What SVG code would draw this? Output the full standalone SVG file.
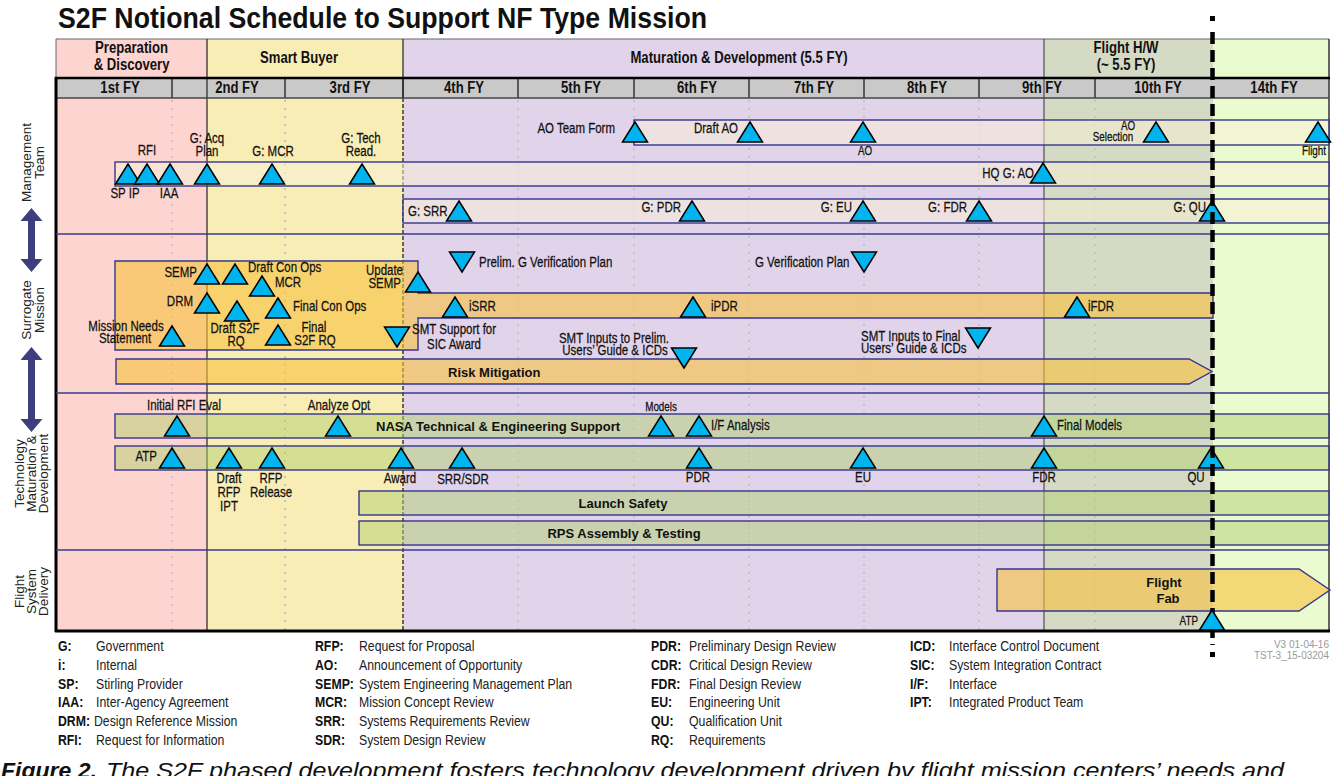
<svg xmlns="http://www.w3.org/2000/svg" width="1332" height="776" viewBox="0 0 1332 776">
<defs>
<style>
text{font-family:"Liberation Sans",Arial,sans-serif;fill:#111}
.lb,.lg,.lgb,.hd{transform-box:fill-box;transform:scaleX(.82);transform-origin:0 50%}
.lb{font-size:14px;stroke:#111;stroke-width:.25}
.sm{font-size:12px}
.hd{font-size:16px;font-weight:bold;text-anchor:middle;transform-origin:50% 50%}
.mid{text-anchor:middle;transform-origin:50% 50%}
.end{text-anchor:end;transform-origin:100% 50%}
.bt{font-weight:bold;font-size:13px}
.lane{font-size:13.5px;fill:#222;text-anchor:middle}
.lg{font-size:15px;fill:#222}
.lgb{font-size:15px;font-weight:bold;fill:#111}
.ver{font-size:10px;fill:#9a9a9a;text-anchor:end}
.barM{fill:#f7eed6;fill-opacity:.55;stroke:#34378c;stroke-width:1.4}
.barO{fill:#f8c13e;fill-opacity:.6;stroke:#34378c;stroke-width:1.4}
.barG{fill:#b1d071;fill-opacity:.5;stroke:#34378c;stroke-width:1.4}
.grid{stroke:#c4c4c4;stroke-width:2;stroke-dasharray:2 6}
.fysep{stroke:#333;stroke-width:1.5}
.lanesep{stroke:#3a3d8c;stroke-width:1.5}
.tri{fill:#00b4ef;stroke:#000;stroke-width:1.5;stroke-linejoin:miter}
.arr{fill:#3b3f80}
</style>
<path id="tu" class="tri" d="M0,-20 L12.5,0 L-12.5,0 Z"/>
<path id="td" class="tri" d="M0,20 L12.5,0 L-12.5,0 Z"/>
</defs>
<rect width="1332" height="776" fill="#fff"/>

<g id="title">
<text x="58" y="28" font-weight="bold" font-size="29" textLength="649" lengthAdjust="spacingAndGlyphs">S2F Notional Schedule to Support NF Type Mission</text>
</g>

<g id="phases">
<rect x="56" y="39" width="151" height="592" fill="#fdd4cf"/>
<rect x="207" y="39" width="196" height="592" fill="#f8edb5"/>
<rect x="403" y="39" width="641" height="592" fill="#e0d3ea"/>
<rect x="1044" y="39" width="169" height="592" fill="#d4dac4"/>
<rect x="1213" y="39" width="116" height="592" fill="#eafbd0"/>
<rect x="56" y="78" width="1273" height="20" fill="#c9c9c9"/>
<text class="hd" x="131.5" y="53">Preparation</text>
<text class="hd" x="131.5" y="70">&amp; Discovery</text>
<text class="hd" x="299" y="63">Smart Buyer</text>
<text class="hd" x="739" y="63">Maturation &amp; Development (5.5 FY)</text>
<text class="hd" x="1126" y="53">Flight H/W</text>
<text class="hd" x="1126" y="70">(~ 5.5 FY)</text>
</g>

<g id="fiscal-years">
<text class="hd" x="120" y="93">1st FY</text>
<text class="hd" x="237" y="93">2nd FY</text>
<text class="hd" x="350" y="93">3rd FY</text>
<text class="hd" x="464" y="93">4th FY</text>
<text class="hd" x="581" y="93">5th FY</text>
<text class="hd" x="697" y="93">6th FY</text>
<text class="hd" x="814" y="93">7th FY</text>
<text class="hd" x="927" y="93">8th FY</text>
<text class="hd" x="1042" y="93">9th FY</text>
<text class="hd" x="1158" y="93">10th FY</text>
<text class="hd" x="1274" y="93">14th FY</text>
<g class="fysep">
<line x1="172" y1="78" x2="172" y2="98"/><line x1="285" y1="78" x2="285" y2="98"/>
<line x1="518" y1="78" x2="518" y2="98"/><line x1="634" y1="78" x2="634" y2="98"/>
<line x1="749" y1="78" x2="749" y2="98"/><line x1="864" y1="78" x2="864" y2="98"/>
<line x1="979" y1="78" x2="979" y2="98"/><line x1="1095" y1="78" x2="1095" y2="98"/>
<line x1="403" y1="78" x2="403" y2="98"/>
</g>
<g class="grid">
<line x1="172" y1="100" x2="172" y2="630"/><line x1="285" y1="100" x2="285" y2="630"/>
<line x1="518" y1="100" x2="518" y2="630"/><line x1="634" y1="100" x2="634" y2="630"/>
<line x1="749" y1="100" x2="749" y2="630"/><line x1="864" y1="100" x2="864" y2="630"/>
<line x1="979" y1="100" x2="979" y2="630"/><line x1="1095" y1="100" x2="1095" y2="630"/>
</g>
</g>

<g id="frame">
<line x1="56" y1="39" x2="1329" y2="39" stroke="#666" stroke-width="1"/>
<line x1="56" y1="39" x2="56" y2="78" stroke="#666" stroke-width="1"/>
<line x1="1329" y1="39" x2="1329" y2="631" stroke="#333" stroke-width="1.5"/>
<line x1="207" y1="39" x2="207" y2="631" stroke="#222" stroke-width="1.2"/>
<line x1="403" y1="39" x2="403" y2="98" stroke="#222" stroke-width="1.2"/>
<line x1="403" y1="98" x2="403" y2="631" stroke="#111" stroke-width="1.2" stroke-dasharray="4 2"/>
<line x1="1044" y1="39" x2="1044" y2="631" stroke="#333" stroke-width="1"/>
<line x1="56" y1="98" x2="1329" y2="98" stroke="#444" stroke-width="1.5"/>
<line x1="55" y1="78" x2="1330" y2="78" stroke="#000" stroke-width="2.5"/>
<line x1="56" y1="77" x2="56" y2="632" stroke="#000" stroke-width="3"/>
<line x1="55" y1="631" x2="1330" y2="631" stroke="#000" stroke-width="3"/>
<g class="lanesep">
<line x1="56" y1="234" x2="1329" y2="234"/>
<line x1="56" y1="393" x2="1329" y2="393"/>
<line x1="56" y1="550" x2="1329" y2="550"/>
</g>
</g>

<g id="lane-labels">
<text class="lane" transform="translate(31,162.5) rotate(-90)"><tspan x="0" y="0">Management</tspan><tspan x="0" y="12.5">Team</tspan></text>
<text class="lane" transform="translate(31,310) rotate(-90)"><tspan x="0" y="0">Surrogate</tspan><tspan x="0" y="12.5">Mission</tspan></text>
<text class="lane" transform="translate(23.5,473.5) rotate(-90)"><tspan x="0" y="0">Technology</tspan><tspan x="0" y="12">Maturation &amp;</tspan><tspan x="0" y="24">Development</tspan></text>
<text class="lane" transform="translate(23.5,591.5) rotate(-90)"><tspan x="0" y="0">Flight</tspan><tspan x="0" y="12">System</tspan><tspan x="0" y="24">Delivery</tspan></text>
<path class="arr" d="M31.5,208 L42.5,221 L35,221 L35,259 L42.5,259 L31.5,272 L20.5,259 L28,259 L28,221 L20.5,221 Z"/>
<path class="arr" d="M31.5,347 L42.5,360 L35,360 L35,419 L42.5,419 L31.5,432 L20.5,419 L28,419 L28,360 L20.5,360 Z"/>
</g>

<g id="connectors">
<rect id="bar-ao" class="barM" x="634" y="120" width="695" height="25"/>
<rect id="bar-mgmt" class="barM" x="115" y="162" width="1214" height="24"/>
<rect id="bar-gov" class="barM" x="403" y="199" width="926" height="24"/>
<path id="bar-surrogate" class="barO" d="M115,261 L418,261 L418,293 L1213,293 L1213,318 L418,318 L418,350 L115,350 Z"/>
<path id="bar-risk" class="barO" d="M116,359 L1189,359 L1212,371.5 L1189,384 L116,384 Z"/>
<rect id="bar-nasa" class="barG" x="115" y="414" width="1214" height="24"/>
<rect id="bar-atp" class="barG" x="115" y="446" width="1214" height="24"/>
<rect id="bar-launch" class="barG" x="359" y="491" width="970" height="24"/>
<rect id="bar-rps" class="barG" x="359" y="521" width="970" height="24"/>
<path id="bar-flightfab" class="barO" d="M997,569 L1299,569 L1330,590 L1299,611 L997,611 Z"/>
<text class="bt" x="448" y="377">Risk Mitigation</text>
<text class="bt" x="376" y="431">NASA Technical &amp; Engineering Support</text>
<text class="bt" x="623" y="508" text-anchor="middle">Launch Safety</text>
<text class="bt" x="624" y="538" text-anchor="middle">RPS Assembly &amp; Testing</text>
<text class="bt" x="1164" y="587" text-anchor="middle">Flight</text>
<text class="bt" x="1168" y="603" text-anchor="middle">Fab</text>
</g>

<g id="management">
<g id="m-spip"><use href="#tu" x="128" y="184"/><text class="lb mid" x="125" y="198">SP IP</text></g>
<g id="m-rfi"><use href="#tu" x="147" y="184"/><text class="lb mid" x="147" y="155">RFI</text></g>
<g id="m-iaa"><use href="#tu" x="170" y="184"/><text class="lb mid" x="169" y="198">IAA</text></g>
<g id="m-acq"><use href="#tu" x="207" y="184"/><text class="lb mid" x="207" y="143">G: Acq</text><text class="lb mid" x="207" y="156">Plan</text></g>
<g id="m-mcr"><use href="#tu" x="272" y="184"/><text class="lb mid" x="273" y="156">G: MCR</text></g>
<g id="m-tech"><use href="#tu" x="362" y="184"/><text class="lb mid" x="361" y="143">G: Tech</text><text class="lb mid" x="361" y="156">Read.</text></g>
<g id="m-hqao"><use href="#tu" x="1043" y="183"/><text class="lb end" x="1034" y="178">HQ G: AO</text></g>
<g id="m-aoteam"><use href="#tu" x="635" y="142"/><text class="lb end" x="615" y="133">AO Team Form</text></g>
<g id="m-draftao"><use href="#tu" x="750" y="142"/><text class="lb end" x="738" y="133">Draft AO</text></g>
<g id="m-ao"><use href="#tu" x="863" y="142"/><text class="lb sm mid" x="865" y="155">AO</text></g>
<g id="m-aosel"><use href="#tu" x="1156" y="142"/><text class="lb sm mid" x="1128" y="130">AO</text><text class="lb sm mid" x="1113" y="141">Selection</text></g>
<g id="m-flight"><use href="#tu" x="1318" y="142"/><text class="lb sm end" x="1326" y="155">Flight</text></g>
<g id="m-gsrr"><use href="#tu" x="459" y="221"/><text class="lb" x="408" y="216">G: SRR</text></g>
<g id="m-gpdr"><use href="#tu" x="692" y="221"/><text class="lb end" x="681" y="212">G: PDR</text></g>
<g id="m-geu"><use href="#tu" x="863" y="221"/><text class="lb end" x="852" y="212">G: EU</text></g>
<g id="m-gfdr"><use href="#tu" x="979" y="221"/><text class="lb end" x="967" y="212">G: FDR</text></g>
<g id="m-gqu"><use href="#tu" x="1212" y="221"/><text class="lb end" x="1206" y="212">G: QU</text></g>
</g>

<g id="surrogate">
<g id="s-semp"><use href="#tu" x="207" y="284"/><text class="lb end" x="197" y="277">SEMP</text></g>
<g id="s-draftconops"><use href="#tu" x="235" y="284"/><text class="lb" x="248" y="272">Draft Con Ops</text></g>
<g id="s-mcr"><use href="#tu" x="262" y="296"/><text class="lb" x="275" y="287">MCR</text></g>
<g id="s-drm"><use href="#tu" x="207" y="313"/><text class="lb end" x="193" y="306">DRM</text></g>
<g id="s-drafts2f"><use href="#tu" x="237" y="321"/><text class="lb mid" x="235" y="333">Draft S2F</text><text class="lb mid" x="236" y="346">RQ</text></g>
<g id="s-finalconops"><use href="#tu" x="278" y="318"/><text class="lb" x="293" y="311">Final Con Ops</text></g>
<g id="s-finals2f"><use href="#tu" x="278" y="345"/><text class="lb mid" x="314" y="332">Final</text><text class="lb mid" x="315" y="345">S2F RQ</text></g>
<g id="s-mns"><use href="#tu" x="172" y="346"/><text class="lb mid" x="126" y="331">Mission Needs</text><text class="lb mid" x="125" y="343.5">Statement</text></g>
<g id="s-updsemp"><use href="#tu" x="418" y="292"/><text class="lb end" x="403" y="275.5">Update</text><text class="lb end" x="401" y="288">SEMP</text></g>
<g id="s-smtsic"><use href="#td" x="397" y="327"/><text class="lb mid" x="454" y="334">SMT Support for</text><text class="lb mid" x="454" y="349">SIC Award</text></g>
<g id="s-prelimver"><use href="#td" x="462" y="252"/><text class="lb" x="479" y="267">Prelim. G Verification Plan</text></g>
<g id="s-isrr"><use href="#tu" x="455" y="317"/><text class="lb" x="469" y="311">iSRR</text></g>
<g id="s-ipdr"><use href="#tu" x="693" y="317"/><text class="lb" x="711" y="311">iPDR</text></g>
<g id="s-ifdr"><use href="#tu" x="1077" y="317"/><text class="lb" x="1088" y="311">iFDR</text></g>
<g id="s-smtprelim"><use href="#td" x="684" y="348"/><text class="lb mid" x="614" y="343">SMT Inputs to Prelim.</text><text class="lb mid" x="615" y="355">Users’ Guide &amp; ICDs</text></g>
<g id="s-gver"><use href="#td" x="864" y="252"/><text class="lb" x="755" y="267">G Verification Plan</text></g>
<g id="s-smtfinal"><use href="#td" x="978" y="328"/><text class="lb" x="861" y="341">SMT Inputs to Final</text><text class="lb" x="861" y="353">Users’ Guide &amp; ICDs</text></g>
</g>

<g id="technology">
<g id="t-rfieval"><use href="#tu" x="177" y="436"/><text class="lb mid" x="184" y="410">Initial RFI Eval</text></g>
<g id="t-analyze"><use href="#tu" x="338" y="436"/><text class="lb mid" x="339" y="410">Analyze Opt</text></g>
<g id="t-models"><use href="#tu" x="661" y="436"/><text class="lb sm mid" x="661" y="411">Models</text></g>
<g id="t-ifanalysis"><use href="#tu" x="699" y="436"/><text class="lb" x="711" y="430">I/F Analysis</text></g>
<g id="t-finalmodels"><use href="#tu" x="1044" y="436"/><text class="lb" x="1057" y="430">Final Models</text></g>
<g id="t-atp"><use href="#tu" x="172" y="468"/><text class="lb end" x="157" y="461">ATP</text></g>
<g id="t-draftrfp"><use href="#tu" x="229" y="468"/><text class="lb mid" x="229" y="483">Draft</text><text class="lb mid" x="229" y="497">RFP</text><text class="lb mid" x="229" y="511">IPT</text></g>
<g id="t-rfprel"><use href="#tu" x="272" y="468"/><text class="lb mid" x="271" y="483">RFP</text><text class="lb mid" x="271" y="497">Release</text></g>
<g id="t-award"><use href="#tu" x="401" y="468"/><text class="lb mid" x="400" y="483">Award</text></g>
<g id="t-srrsdr"><use href="#tu" x="462" y="468"/><text class="lb mid" x="463" y="484">SRR/SDR</text></g>
<g id="t-pdr"><use href="#tu" x="699" y="468"/><text class="lb mid" x="698" y="482">PDR</text></g>
<g id="t-eu"><use href="#tu" x="863" y="468"/><text class="lb mid" x="863" y="482">EU</text></g>
<g id="t-fdr"><use href="#tu" x="1044" y="468"/><text class="lb mid" x="1044" y="482">FDR</text></g>
<g id="t-qu"><use href="#tu" x="1211" y="468"/><text class="lb mid" x="1196" y="482">QU</text></g>
</g>

<g id="milestone-line">
<rect x="1210" y="16" width="5" height="5" fill="#000"/>
<line x1="1212.5" y1="32" x2="1212.5" y2="645" stroke="#000" stroke-width="4.5" stroke-dasharray="12 6"/>
<rect x="1210" y="652" width="5" height="5" fill="#000"/>
</g>

<g id="flight-delivery">
<g id="f-atp"><use href="#tu" x="1212" y="630"/><text class="lb sm end" x="1198" y="625">ATP</text></g>
</g>

<g id="legend">
<text class="lgb" x="58" y="651">G:</text><text class="lg" x="96" y="651">Government</text>
<text class="lgb" x="58" y="670">i:</text><text class="lg" x="96" y="670">Internal</text>
<text class="lgb" x="58" y="689">SP:</text><text class="lg" x="96" y="689">Stirling Provider</text>
<text class="lgb" x="58" y="707">IAA:</text><text class="lg" x="96" y="707">Inter-Agency Agreement</text>
<text class="lgb" x="58" y="726">DRM:</text><text class="lg" x="94" y="726">Design Reference Mission</text>
<text class="lgb" x="58" y="745">RFI:</text><text class="lg" x="96" y="745">Request for Information</text>
<text class="lgb" x="315" y="651">RFP:</text><text class="lg" x="359" y="651">Request for Proposal</text>
<text class="lgb" x="315" y="670">AO:</text><text class="lg" x="359" y="670">Announcement of Opportunity</text>
<text class="lgb" x="315" y="689">SEMP:</text><text class="lg" x="359" y="689">System Engineering Management Plan</text>
<text class="lgb" x="315" y="707">MCR:</text><text class="lg" x="359" y="707">Mission Concept Review</text>
<text class="lgb" x="315" y="726">SRR:</text><text class="lg" x="359" y="726">Systems Requirements Review</text>
<text class="lgb" x="315" y="745">SDR:</text><text class="lg" x="359" y="745">System Design Review</text>
<text class="lgb" x="651" y="651">PDR:</text><text class="lg" x="689" y="651">Preliminary Design Review</text>
<text class="lgb" x="651" y="670">CDR:</text><text class="lg" x="689" y="670">Critical Design Review</text>
<text class="lgb" x="651" y="689">FDR:</text><text class="lg" x="689" y="689">Final Design Review</text>
<text class="lgb" x="651" y="707">EU:</text><text class="lg" x="689" y="707">Engineering Unit</text>
<text class="lgb" x="651" y="726">QU:</text><text class="lg" x="689" y="726">Qualification Unit</text>
<text class="lgb" x="651" y="745">RQ:</text><text class="lg" x="689" y="745">Requirements</text>
<text class="lgb" x="910" y="651">ICD:</text><text class="lg" x="949" y="651">Interface Control Document</text>
<text class="lgb" x="910" y="670">SIC:</text><text class="lg" x="949" y="670">System Integration Contract</text>
<text class="lgb" x="910" y="689">I/F:</text><text class="lg" x="949" y="689">Interface</text>
<text class="lgb" x="910" y="707">IPT:</text><text class="lg" x="949" y="707">Integrated Product Team</text>
<text class="ver" x="1329" y="648">V3 01-04-16</text>
<text class="ver" x="1329" y="659">TST-3_15-03204</text>
</g>

<g id="caption">
<text x="1" y="778" font-size="22" font-style="italic" font-weight="bold" textLength="96" lengthAdjust="spacingAndGlyphs">Figure 2.</text>
<text x="106" y="778" font-size="22" font-style="italic" textLength="1178" lengthAdjust="spacingAndGlyphs">The S2F phased development fosters technology development driven by flight mission centers’ needs and</text>
</g>
</svg>
